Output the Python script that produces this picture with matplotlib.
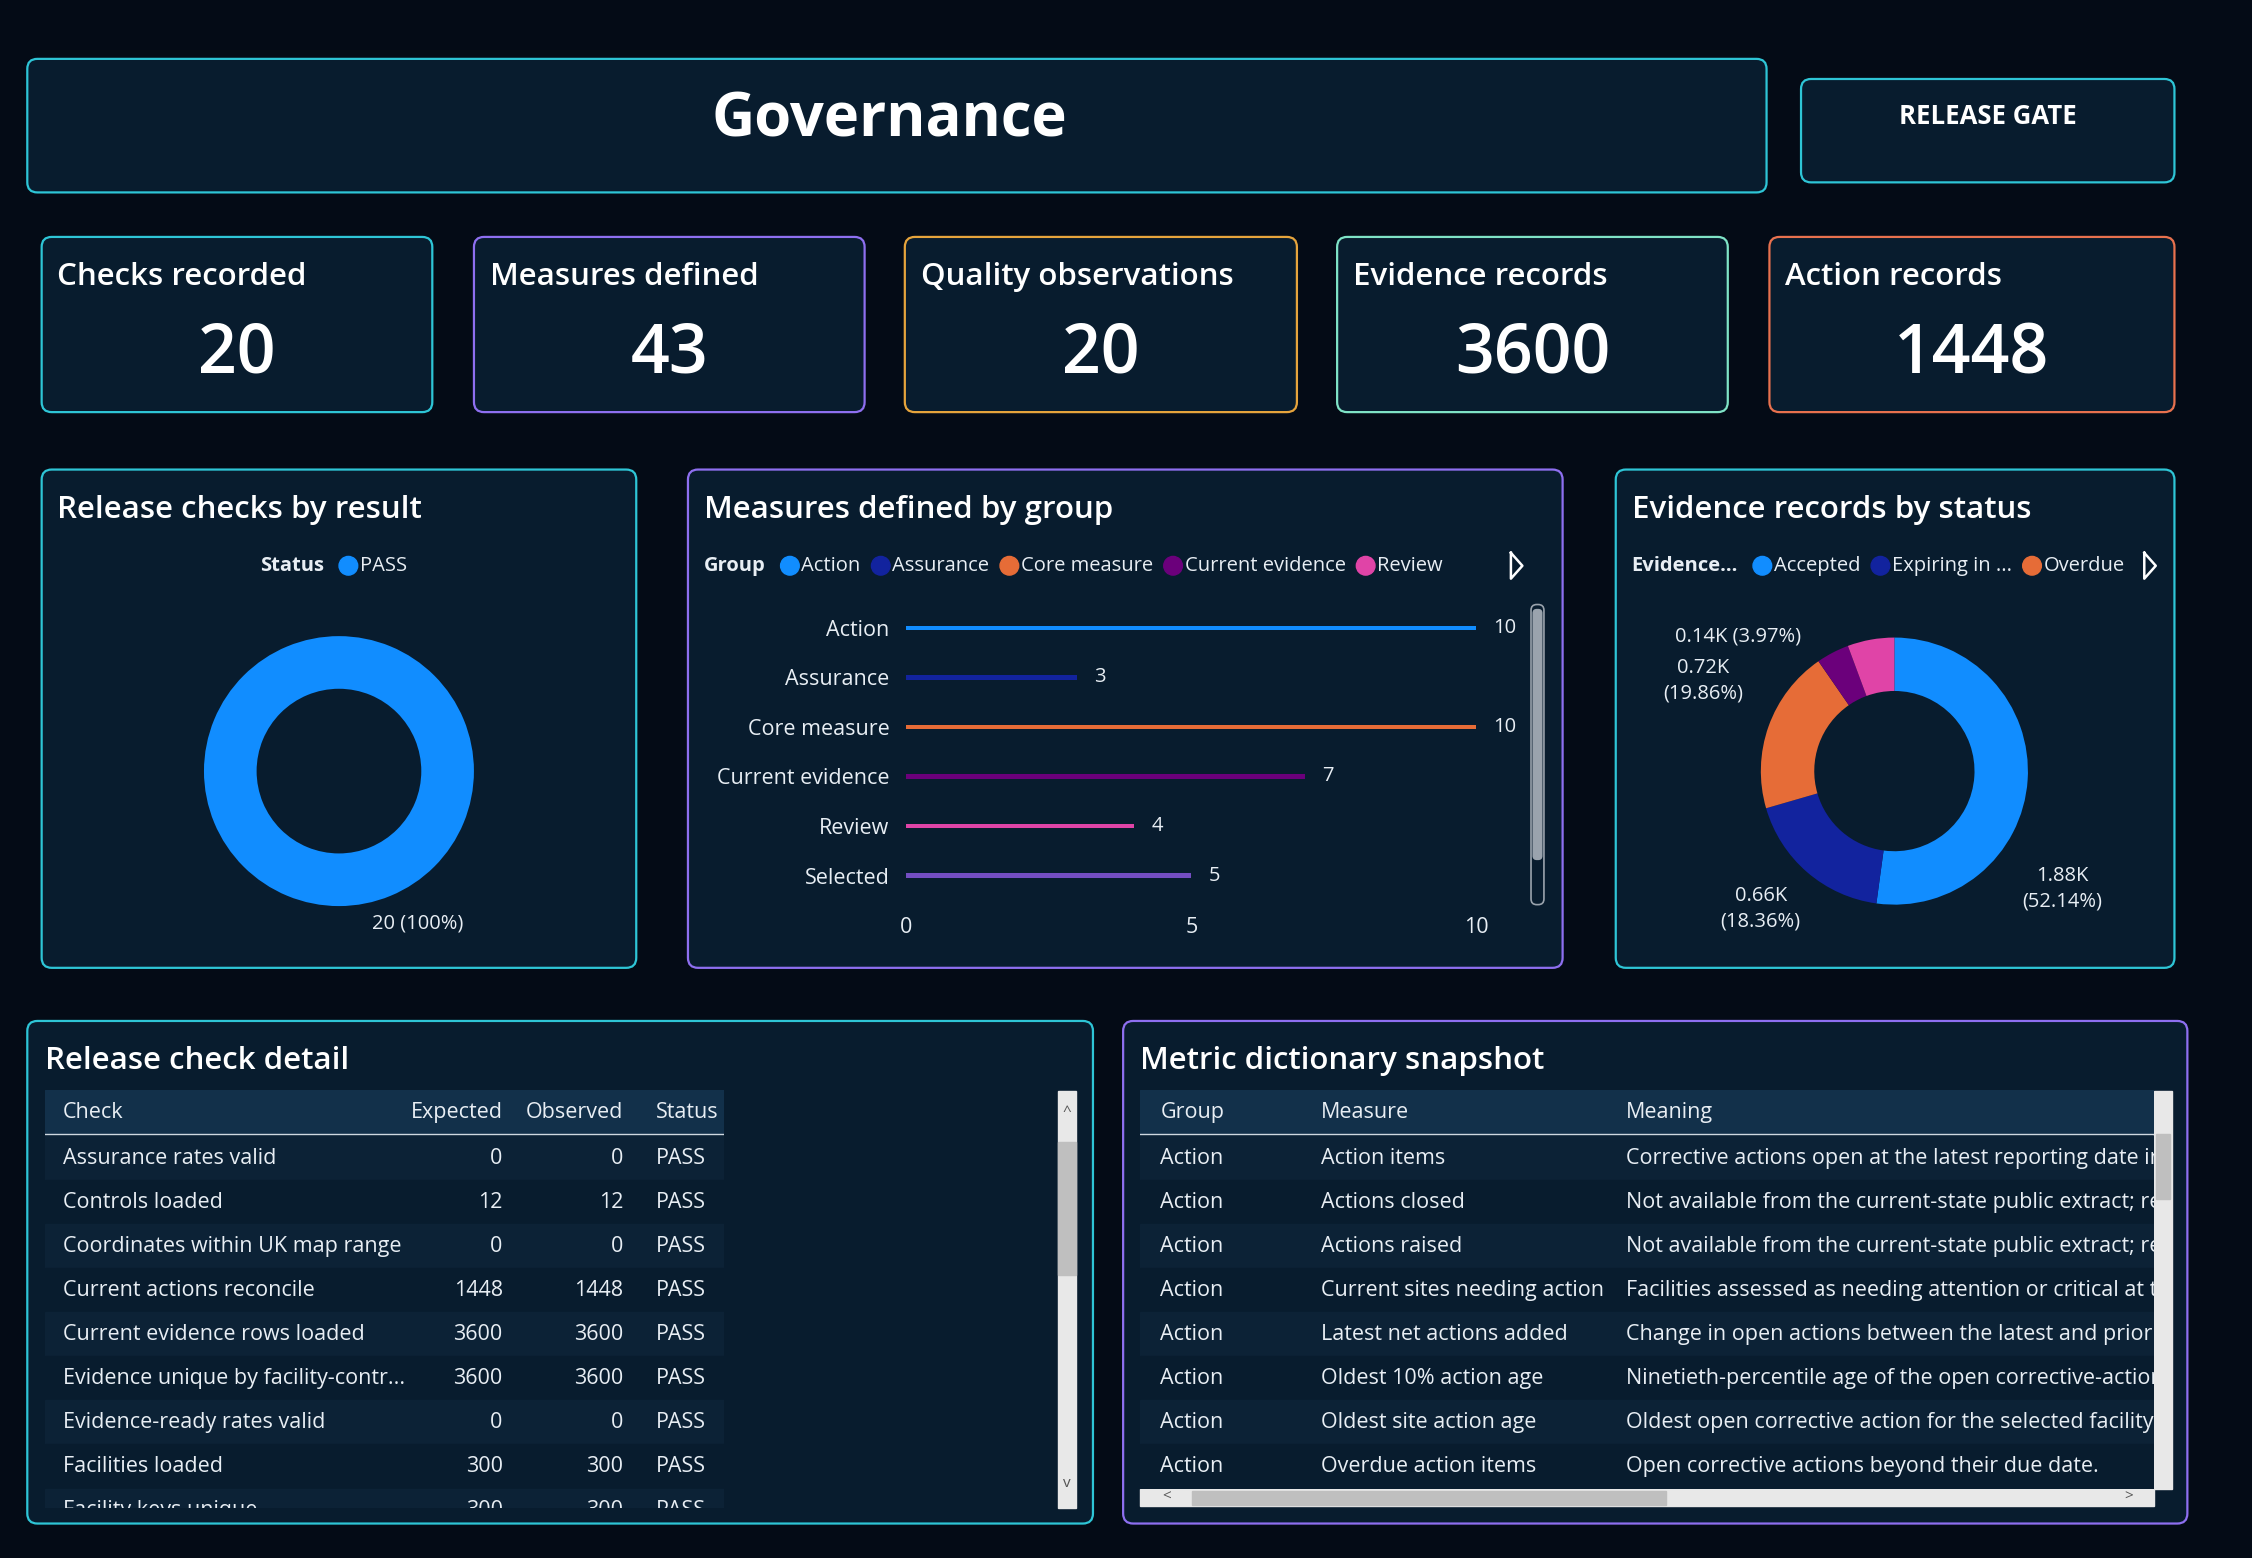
import matplotlib
matplotlib.use("Agg")
import matplotlib.pyplot as plt
from matplotlib.patches import FancyBboxPatch, Rectangle, Circle
import numpy as np

plt.rcParams['font.family'] = ['Open Sans', 'DejaVu Sans']

# ---------------- data ----------------
kpi_titles = ["Checks recorded", "Measures defined", "Quality observations", "Evidence records", "Action records"]
kpi_values = ["20", "43", "20", "3600", "1448"]

result_labels = ["PASS"]
result_values = [20]

group_labels = ["Action", "Assurance", "Core measure", "Current evidence", "Review", "Selected"]
group_values = [10, 3, 10, 7, 4, 5]

status_labels = ["Accepted", "Expiring in ...", "Overdue", "Other", "Pending"]
status_values = [1880, 662, 716, 143, 204]
status_pcts = ["52.14%", "18.36%", "19.86%", "3.97%", "5.67%"]

check_names = ["Assurance rates valid", "Controls loaded", "Coordinates within UK map range",
               "Current actions reconcile", "Current evidence rows loaded",
               "Evidence unique by facility-contr...", "Evidence-ready rates valid",
               "Facilities loaded", "Facility keys unique"]
check_expected = [0, 12, 0, 1448, 3600, 3600, 0, 300, 300]
check_observed = [0, 12, 0, 1448, 3600, 3600, 0, 300, 300]
check_status = ["PASS"] * 9

dict_group = ["Action"] * 8
dict_measure = ["Action items", "Actions closed", "Actions raised", "Current sites needing action",
                "Latest net actions added", "Oldest 10% action age", "Oldest site action age",
                "Overdue action items"]
dict_meaning = ["Corrective actions open at the latest reporting date in the selected period.",
                "Not available from the current-state public extract; retained for completeness.",
                "Not available from the current-state public extract; retained for completeness.",
                "Facilities assessed as needing attention or critical at the latest date.",
                "Change in open actions between the latest and prior reporting dates.",
                "Ninetieth-percentile age of the open corrective-action backlog.",
                "Oldest open corrective action for the selected facility.",
                "Open corrective actions beyond their due date."]

# ---------------- styling ----------------
BG = "#040b16"
PANEL = "#081c2e"
CYAN = "#2ec5d6"
PURPLE = "#8e6ff0"
ORANGE = "#e6a43c"
MINT = "#7fe3c6"
SALMON = "#e8714e"
WHITE = "#ffffff"
TXT = "#e8eef4"
bar_colors = ["#118dff", "#12239e", "#e66c37", "#6b007b", "#e044a7", "#744ec2"]
pie_colors = ["#118dff", "#12239e", "#e66c37", "#6b007b", "#e044a7"]

W, H = 1568, 1085
fig = plt.figure(figsize=(22.52, 15.58), dpi=100, facecolor=BG)
base = fig.add_axes([0, 0, 1, 1])
base.set_xlim(0, W); base.set_ylim(H, 0); base.axis("off")
renderer = fig.canvas.get_renderer()
FS_T = 15.5  # table / label font


def rect_axes(x0, y0, x1, y1, **kw):
    return fig.add_axes([x0 / W, 1 - y1 / H, (x1 - x0) / W, (y1 - y0) / H], **kw)


def panel(x0, y0, x1, y1, ec):
    base.add_patch(FancyBboxPatch((x0, y0), x1 - x0, y1 - y0, boxstyle="round,pad=0,rounding_size=7",
                                  fc=PANEL, ec=ec, lw=1.6))


def text_w(t):
    bb = t.get_window_extent(renderer=renderer)
    return bb.width * W / fig.bbox.width


# title row
panel(19, 41, 1230, 134, CYAN)
base.text(619, 84, "Governance", color=WHITE, fontsize=43, fontweight="bold", ha="center", va="center")
panel(1254, 55, 1514, 127, CYAN)
base.text(1384, 81, "RELEASE GATE", color=WHITE, fontsize=18.5, fontweight="bold", ha="center", va="center")

# KPI cards
kpi_x = [(29, 301), (330, 602), (630, 903), (931, 1203), (1232, 1514)]
kpi_ec = [CYAN, PURPLE, ORANGE, MINT, SALMON]
for (x0, x1), ec, t, v in zip(kpi_x, kpi_ec, kpi_titles, kpi_values):
    panel(x0, 165, x1, 287, ec)
    base.text(x0 + 11, 193, t, color=WHITE, fontsize=22.5, fontweight="semibold", va="center")
    base.text((x0 + x1) / 2, 247, v, color=WHITE, fontsize=49, fontweight="semibold", ha="center", va="center")

# chart panels
panel(29, 327, 443, 674, CYAN)
panel(479, 327, 1088, 674, PURPLE)
panel(1125, 327, 1514, 674, CYAN)
for x, t in [(40, "Release checks by result"), (490, "Measures defined by group"), (1136, "Evidence records by status")]:
    base.text(x, 355, t, color=WHITE, fontsize=22.5, fontweight="semibold", va="center")


def legend_row(x, y, title, items, colors):
    t = base.text(x, y, title, color=TXT, fontsize=14.5, fontweight="bold", va="center")
    x += text_w(t) + 11
    for lab, c in zip(items, colors):
        base.add_patch(Circle((x + 6, y), 6.5, color=c))
        t = base.text(x + 14, y, lab, color=TXT, fontsize=14.5, va="center")
        x += 14 + text_w(t) + 8

legend_row(181, 394, "Status", result_labels, ["#118dff"])
legend_row(490, 394, "Group", group_labels[:5], bar_colors[:5])
legend_row(1136, 394, "Evidence...", status_labels[:3], pie_colors[:3])
for xa in (1056, 1497):
    base.plot([xa - 4, xa + 4, xa - 4, xa - 4], [385, 394, 403, 385], color=WHITE, lw=1.8)

# donut 1
ax1 = rect_axes(142, 443, 330, 631)
ax1.pie(result_values, colors=["#118dff"], startangle=90, counterclock=False,
        wedgeprops=dict(width=0.39, linewidth=0))
ax1.set_xlim(-1, 1); ax1.set_ylim(-1, 1); ax1.set_aspect("equal")
base.text(291, 643, f"{result_values[0]} (100%)", color=TXT, fontsize=14.5, ha="center", va="center")

# bar chart
ax2 = rect_axes(631, 420, 1028, 627)
ax2.set_facecolor("none")
ypos = np.arange(len(group_values))
ax2.barh(ypos, group_values, height=0.09, color=bar_colors)
ax2.set_xlim(0, 10); ax2.set_ylim(len(group_values) - 0.5, -0.5)
ax2.set_yticks(ypos, group_labels)
ax2.set_xticks([0, 5, 10])
ax2.tick_params(colors=TXT, labelsize=FS_T, length=0, pad=12)
for s in ax2.spines.values():
    s.set_visible(False)
for yv, v in zip(ypos, group_values):
    ax2.text(v + 0.3, yv, str(v), color=TXT, fontsize=14.5, va="center")
base.add_patch(FancyBboxPatch((1066, 421), 9, 209, boxstyle="round,pad=0,rounding_size=4",
                              fc="none", ec="#9aa3ad", lw=1.2))
base.add_patch(FancyBboxPatch((1067, 424), 7, 175, boxstyle="round,pad=0,rounding_size=3",
                              fc="#9aa3ad", ec="none"))

# donut 2
ax3 = rect_axes(1226, 444, 1412, 630)
ax3.pie(status_values, colors=pie_colors, startangle=90, counterclock=False,
        wedgeprops=dict(width=0.4, linewidth=0))
ax3.set_xlim(-1, 1); ax3.set_ylim(-1, 1); ax3.set_aspect("equal")
base.text(1436, 619, "1.88K\n(52.14%)", color=TXT, fontsize=14.5, ha="center", va="center", linespacing=1.4)
base.text(1226, 633, "0.66K\n(18.36%)", color=TXT, fontsize=14.5, ha="center", va="center", linespacing=1.4)
base.text(1186, 474, "0.72K\n(19.86%)", color=TXT, fontsize=14.5, ha="center", va="center", linespacing=1.4)
base.text(1210, 443, "0.14K (3.97%)", color=TXT, fontsize=14.5, ha="center", va="center")

# tables
panel(19, 711, 761, 1061, CYAN)
panel(782, 711, 1523, 1061, PURPLE)
base.text(31, 739, "Release check detail", color=WHITE, fontsize=22.5, fontweight="semibold", va="center")
base.text(794, 739, "Metric dictionary snapshot", color=WHITE, fontsize=22.5, fontweight="semibold", va="center")

HDR = "#12304a"
ROW_A = "#0c2236"
ROW_B = "#081c2e"


def table_axes(x0, y0, x1, y1):
    ax = rect_axes(x0, y0, x1, y1)
    ax.set_xlim(x0, x1); ax.set_ylim(y1, y0); ax.axis("off")
    return ax

t1 = table_axes(31, 759, 504, 1050)
t1.add_patch(Rectangle((31, 759), 473, 31, color=HDR))
t1.plot([31, 504], [790, 790], color="#cfd8e0", lw=1)
for txt, x, ha in [("Check", 44, "left"), ("Expected", 350, "right"), ("Observed", 434, "right"), ("Status", 457, "left")]:
    t1.text(x, 775, txt, color=TXT, fontsize=FS_T, ha=ha, va="center")
for i, (n, e, o, s) in enumerate(zip(check_names, check_expected, check_observed, check_status)):
    y = 791 + i * 30.7
    t1.add_patch(Rectangle((31, y), 473, 30.7, color=ROW_A if i % 2 == 0 else ROW_B))
    yc = y + 15.5
    t1.text(44, yc, n, color=TXT, fontsize=FS_T, va="center", clip_on=True)
    t1.text(350, yc, str(e), color=TXT, fontsize=FS_T, ha="right", va="center", clip_on=True)
    t1.text(434, yc, str(o), color=TXT, fontsize=FS_T, ha="right", va="center", clip_on=True)
    t1.text(457, yc, s, color=TXT, fontsize=FS_T, va="center", clip_on=True)
base.add_patch(Rectangle((737, 760), 12, 290, color="#e8e8e8"))
base.add_patch(Rectangle((737, 795), 12, 93, color="#bfbfbf"))
base.text(743, 775, "^", color="#555555", fontsize=11, ha="center", va="center")
base.text(743, 1033, "v", color="#555555", fontsize=11, ha="center", va="center")

t2 = table_axes(794, 759, 1500, 1037)
t2.add_patch(Rectangle((794, 759), 706, 31, color=HDR))
t2.plot([794, 1500], [790, 790], color="#cfd8e0", lw=1)
for txt, x in [("Group", 808), ("Measure", 920), ("Meaning", 1132)]:
    t2.text(x, 775, txt, color=TXT, fontsize=FS_T, va="center")
for i, (g, m, mn) in enumerate(zip(dict_group, dict_measure, dict_meaning)):
    y = 791 + i * 30.7
    t2.add_patch(Rectangle((794, y), 706, 30.7, color=ROW_A if i % 2 == 0 else ROW_B))
    yc = y + 15.5
    t2.text(808, yc, g, color=TXT, fontsize=FS_T, va="center", clip_on=True)
    t2.text(920, yc, m, color=TXT, fontsize=FS_T, va="center", clip_on=True)
    t2.text(1132, yc, mn, color=TXT, fontsize=FS_T, va="center", clip_on=True)
base.add_patch(Rectangle((1500, 760), 12, 277, color="#e8e8e8"))
base.add_patch(Rectangle((1501, 790), 10, 45, color="#bfbfbf"))
base.add_patch(Rectangle((794, 1037), 706, 12, color="#e8e8e8"))
base.add_patch(Rectangle((830, 1038), 330, 10, color="#bfbfbf"))
base.text(812, 1043, "<", color="#555555", fontsize=11, ha="center", va="center")
base.text(1482, 1043, ">", color="#555555", fontsize=11, ha="center", va="center")

fig.savefig("out.png", dpi=100, facecolor=BG)
